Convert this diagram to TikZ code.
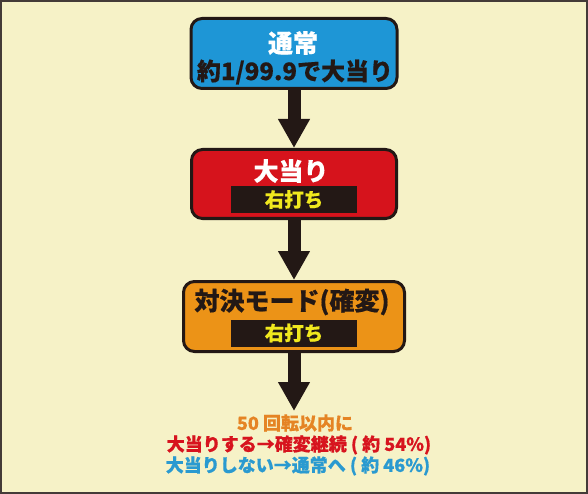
\documentclass[tikz,border=0pt]{standalone}
\usepackage{fontspec}
\setmainfont{Noto Sans CJK JP}[BoldFeatures={FakeBold=0.5}]
\usetikzlibrary{arrows.meta}
\definecolor{cream}{HTML}{F6F2C7}
\definecolor{boxblue}{HTML}{1E96D6}
\definecolor{boxred}{HTML}{D6131C}
\definecolor{boxorange}{HTML}{EC9317}
\definecolor{dark}{HTML}{231815}
\definecolor{baryellow}{HTML}{F0E81E}
\definecolor{txtorange}{HTML}{E58424}
\definecolor{txtred}{HTML}{D7141E}
\definecolor{txtblue}{HTML}{2A9AD0}
\tikzset{
  flowbox/.style={draw=dark, line width=3pt, rounded corners=11pt, inner sep=0pt},
  barbox/.style={fill=dark, inner sep=0pt, minimum width=126pt, minimum height=27pt, text=baryellow, font=\bfseries\fontsize{19.5}{19.5}\selectfont},
  bigarrow/.style={draw=dark, line width=13pt, -{Triangle[length=29pt,width=30pt]}},
  title/.style={inner sep=0pt, font=\bfseries\fontsize{25}{25}\selectfont},
  note/.style={inner sep=0pt, font=\bfseries\fontsize{18}{18}\selectfont}
}
\begin{document}
\begin{tikzpicture}[x=1pt,y=-1pt]
\useasboundingbox (0,0) rectangle (588,494);
\fill[cream] (0,0) rectangle (588,494);
\draw[dark!85, line width=1.5pt] (1,1) rectangle (587,493);
% boxes
\node[flowbox, fill=boxblue, minimum width=206pt, minimum height=70pt] (b1) at (294,53.5) {};
\node[flowbox, fill=boxred, minimum width=205pt, minimum height=69pt] (b2) at (294,184) {};
\node[flowbox, fill=boxorange, minimum width=221pt, minimum height=70pt] (b3) at (294,316.5) {};
% texts in boxes
\node[title, text=white] (t1) at (293,43) {通常};
\node[inner sep=0pt, font=\bfseries\fontsize{24}{24}\selectfont, text=dark] (t1b) at (295,72) {約1/99.9で大当り};
\node[title, text=white] (t2) at (291,171) {大当り};
\node[barbox] (bar2) at (294,199.5) {右打ち};
\node[title, text=dark] (t3) at (292,302) {対決モード(確変)};
\node[barbox] (bar3) at (294,333) {右打ち};
% bottom notes
\node[note, text=txtorange] (n1) at (295,423) {50 回転以内に};
\node[note, text=txtred] (n2) at (299,445) {大当りする→確変継続 ( 約 54\%)};
\node[note, text=txtblue] (n3) at (298,466) {大当りしない→通常へ ( 約 46\%)};
\coordinate (end3) at (294,411);
% arrows
\draw[bigarrow] (b1.south) -- (b2.north);
\draw[bigarrow] (b2.south) -- (b3.north);
\draw[bigarrow] (b3.south) -- (end3);
\end{tikzpicture}
\end{document}
